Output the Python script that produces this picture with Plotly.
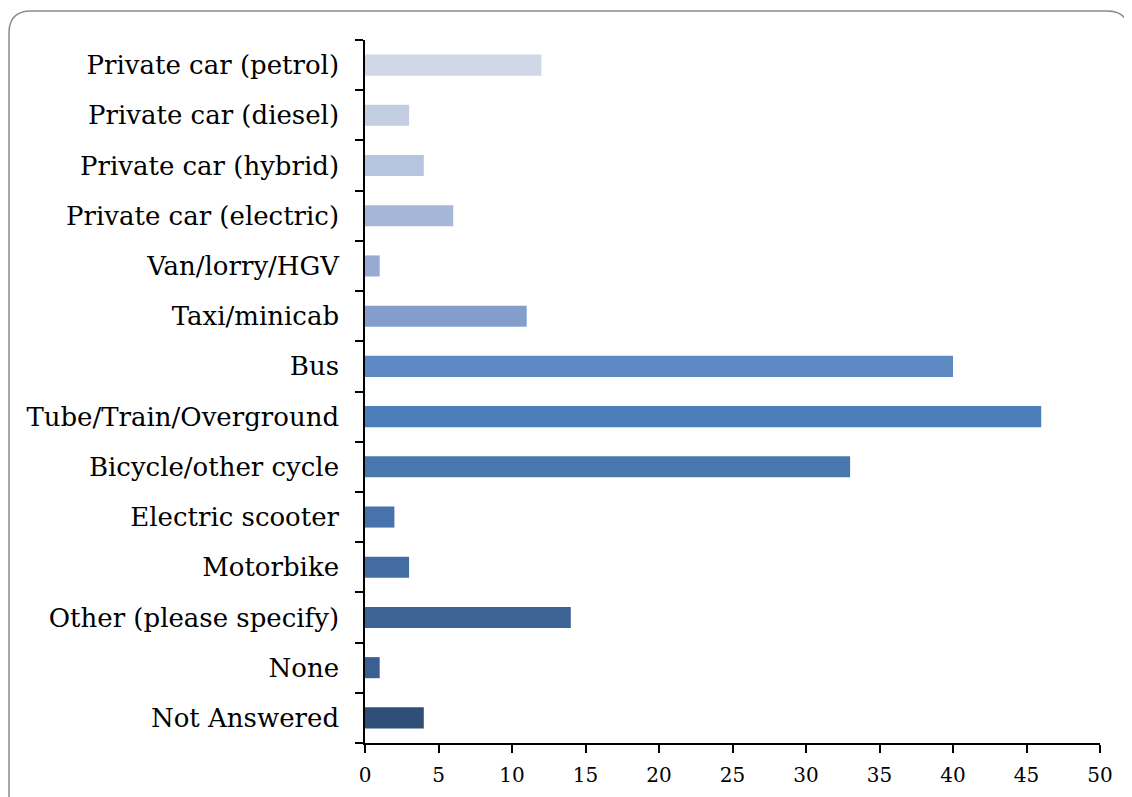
import plotly.graph_objects as go

categories = ["Private car (petrol)", "Private car (diesel)", "Private car (hybrid)",
              "Private car (electric)", "Van/lorry/HGV", "Taxi/minicab", "Bus",
              "Tube/Train/Overground", "Bicycle/other cycle", "Electric scooter",
              "Motorbike", "Other (please specify)", "None", "Not Answered"]
values = [12, 3, 4, 6, 1, 11, 40, 46, 33, 2, 3, 14, 1, 4]
colors = ["#D0D8E7", "#C3CEE2", "#B7C4DF", "#A5B6D7", "#97ABD2", "#839ECB", "#5F89C2",
          "#4C7EBA", "#4877B0", "#4773AA", "#446EA3", "#3D6395", "#3A6092", "#2F4F76"]
x_ticks = [0, 5, 10, 15, 20, 25, 30, 35, 40, 45, 50]

OFF = 8  # page body margin
W, H = 1132 - OFF, 797 - OFF
L, R, T, B = 365 - OFF, 1100 - OFF, 40 - OFF, 743 - OFF

fig = go.Figure(go.Bar(
    x=values, y=categories, orientation="h",
    marker=dict(color=colors, line=dict(width=0)),
    width=0.42,
))

def px(x, y):
    return (x - OFF - L) / (R - L), (B - (y - OFF)) / (B - T)

r = 22
x0, y0 = px(9, 820)
x1, y1 = px(9, 11 + r)
cx1, cy1 = px(9, 11)
x2, y2 = px(9 + r, 11)
x3, y3 = px(1129 - r, 11)
cx2, cy2 = px(1129, 11)
x4, y4 = px(1129, 11 + r)
x5, y5 = px(1129, 820)
path = (f"M {x0} {y0} L {x1} {y1} Q {cx1} {cy1} {x2} {y2} L {x3} {y3} "
        f"Q {cx2} {cy2} {x4} {y4} L {x5} {y5}")

fig.update_layout(
    width=W, height=H,
    margin=dict(l=L, r=W - R, t=T, b=H - B, autoexpand=False),
    paper_bgcolor="white", plot_bgcolor="white",
    font=dict(family="DejaVu Serif, serif", size=20, color="#000000"),
    showlegend=False,
    shapes=[dict(type="path", path=path, xref="paper", yref="paper",
                 line=dict(color="#8C8C8C", width=1.5), layer="below")],
    xaxis=dict(range=[0, 50], tickvals=x_ticks, showgrid=False, zeroline=False,
               showline=True, linecolor="#000000", linewidth=1.5,
               ticks="outside", ticklen=8, tickwidth=1.5, tickcolor="#000000",
               ticklabelstandoff=5,
               tickfont=dict(size=20), fixedrange=True),
    yaxis=dict(categoryorder="array", categoryarray=categories[::-1],
               showgrid=False, zeroline=False, showline=True, linecolor="#000000",
               linewidth=1.5, ticks="outside", ticklen=8, tickwidth=1.5,
               tickcolor="#000000", tickson="boundaries", ticklabelstandoff=19,
               tickfont=dict(size=26), fixedrange=True),
)

fig.write_html("out.html")
